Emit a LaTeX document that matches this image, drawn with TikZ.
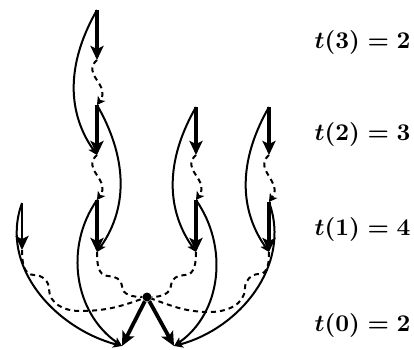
\documentclass[tikz,border=0pt]{standalone}
\usetikzlibrary{arrows.meta,calc}

\tikzset{
  segarrow/.style={line width=3.8pt,-{Stealth[length=14pt,width=13pt,inset=3pt]}},
  shortsegarrow/.style={line width=2.6pt,-{Stealth[length=14pt,width=13pt,inset=3pt]}},
  jumpcurve/.style={line width=2pt,-{Stealth[length=9pt,width=8pt,inset=2pt]}},
  waitline/.style={line width=2pt,dash pattern=on 5pt off 4pt},
  waittip/.style={-{Stealth[length=8pt,width=9pt,inset=2pt]}},
  levellabel/.style={scale=2.4,inner sep=0pt,anchor=east},
}

\begin{document}
\begin{tikzpicture}[x=1pt,y=1pt]

% Canvas of the picture (same size as the scan, y grows downwards as -y)
\useasboundingbox (0,0) rectangle (414,-349);

% --- Column positions ---
\def\colL{22}
\def\colA{97}
\def\colC{196}
\def\colD{269}

% Level 3
\coordinate (a3s) at (\colA,-10);
\coordinate (a3e) at (\colA,-60);
% Level 2
\coordinate (a2s) at (\colA,-105);
\coordinate (a2e) at (\colA,-155);
\coordinate (c2s) at (\colC,-107);
\coordinate (c2e) at (\colC,-155);
\coordinate (d2s) at (\colD,-107);
\coordinate (d2e) at (\colD,-155);
% Level 1
\coordinate (l1s) at (\colL,-203);
\coordinate (l1e) at (\colL,-250);
\coordinate (a1s) at (\colA,-200);
\coordinate (a1e) at (\colA,-252);
\coordinate (c1s) at (\colC,-200);
\coordinate (c1e) at (\colC,-252);
\coordinate (d1s) at (\colD,-202);
\coordinate (d1e) at (\colD,-252);
% Level 0
\coordinate (bleft)  at (122,-346);
\coordinate (bright) at (174,-346);
\node[circle,fill=black,inner sep=0pt,minimum size=9pt] (hub) at (147,-297) {};

% --- Short dashed squiggle from the end of one segment to the next ---
% #1 end of upper segment, #2 start of lower segment
\newcommand{\drawsquiggle}[2]{
    \draw[waitline,waittip] (#1) .. controls ($(#1)+(-16,-14)$) and ($(#2)+(14,20)$) .. (#2);
}

% --- Segments (thick arrows) ---
\draw[segarrow] (a3s) -- (a3e);
\draw[segarrow] (a2s) -- (a2e);
\draw[segarrow] (c2s) -- (c2e);
\draw[segarrow] (d2s) -- (d2e);
\draw[shortsegarrow] (l1s) -- (l1e);
\draw[segarrow] (a1s) -- (a1e);
\draw[segarrow] (c1s) -- (c1e);
\draw[segarrow] (d1s) -- (d1e);
\draw[segarrow] (hub) -- (bleft);
\draw[segarrow] (hub) -- (bright);

% --- Squiggles between levels ---
\drawsquiggle{a3e}{a2s}
\drawsquiggle{a2e}{a1s}
\drawsquiggle{c2e}{c1s}
\drawsquiggle{d2e}{d1s}

% --- Dashed lines from level 1 into the hub ---
\draw[waitline] (l1e) to[out=-90,in=180] ++(12,-25) to[out=0,in=90] ++(15,-14)
    to[out=-90,in=180] ++(30,-22) to[out=0,in=200] (hub);
\draw[waitline] (a1e) to[out=-90,in=180] ++(11,-24) to[out=0,in=90] ++(14,-10)
    to[out=-90,in=180] (hub);
\draw[waitline] (c1e) to[out=-90,in=0] ++(-11,-23) to[out=180,in=90] ++(-14,-10)
    to[out=-90,in=0] (hub);
\draw[waitline] (d1e) to[out=-90,in=0] ++(-10,-22) to[out=180,in=90] ++(-14,-14)
    to[out=-90,in=0] ++(-35,-24) to[out=180,in=-20] (hub);

% --- Solid curves skipping one level ---
\draw[jumpcurve] (a3s) to[out=-120,in=125] (a2e);
\draw[jumpcurve] (a2s) to[out=-60,in=55] (a1e);
\draw[jumpcurve] (c2s) to[out=-120,in=125] (c1e);
\draw[jumpcurve] (d2s) to[out=-120,in=125] (d1e);
\draw[jumpcurve] (l1s) to[out=-110,in=165] (bleft);
\draw[jumpcurve] (a1s) to[out=-125,in=145] (bleft);
\draw[jumpcurve] (c1s) to[out=-55,in=35] (bright);
\draw[jumpcurve] (d1s) to[out=-70,in=15] (bright);

% --- Level labels ---
\boldmath
\node[levellabel] (lab3) at (411,-42)  {$t(3)=2$};
\node[levellabel] (lab2) at (411,-134) {$t(2)=3$};
\node[levellabel] (lab1) at (411,-229) {$t(1)=4$};
\node[levellabel] (lab0) at (411,-325) {$t(0)=2$};

\end{tikzpicture}
\end{document}
